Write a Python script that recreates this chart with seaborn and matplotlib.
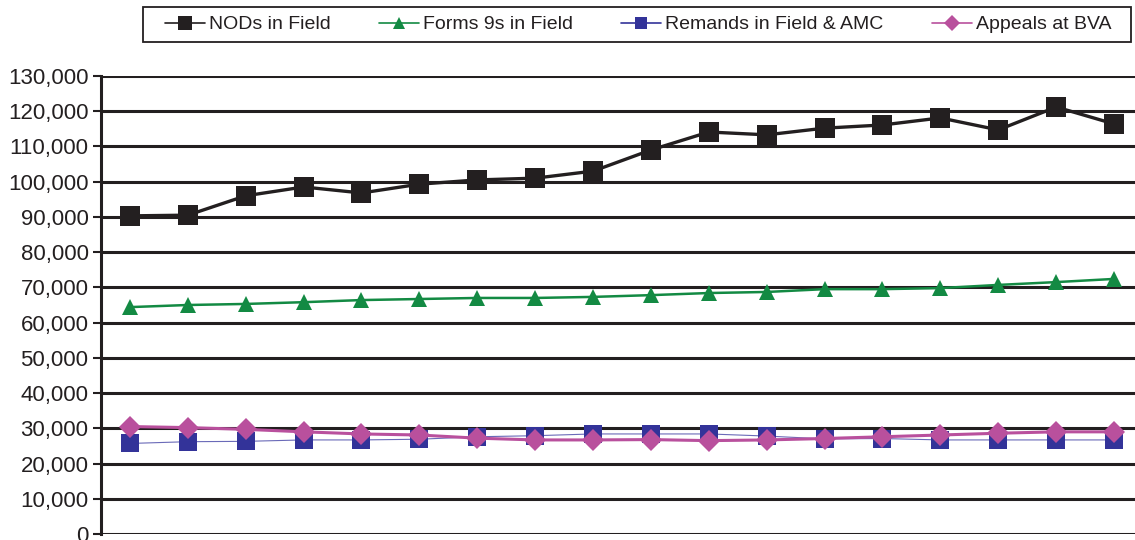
import pandas as pd
import matplotlib.pyplot as plt
import matplotlib.ticker as mticker
from matplotlib.patches import Rectangle
from matplotlib.lines import Line2D
import seaborn as sns

# ---------------- DATA ----------------
periods = list(range(18))
nods = [90300, 90500, 96000, 98500, 96800, 99300, 100500, 101000, 103000,
        109000, 114100, 113300, 115200, 116100, 118100, 114700, 121200, 116400]
forms9 = [64400, 65000, 65300, 65800, 66400, 66700, 67000, 67000, 67300,
          67800, 68400, 68700, 69500, 69500, 69800, 70700, 71500, 72400]
remands = [25700, 26200, 26300, 26700, 26700, 26900, 27600, 27900, 28400,
           28400, 28400, 27800, 27000, 27100, 26700, 26700, 26700, 26700]
appeals = [30500, 30200, 29700, 29000, 28400, 28100, 27200, 26700, 26700,
           26800, 26500, 26700, 27100, 27600, 28100, 28600, 29000, 29000]
series_names = ["NODs in Field", "Forms 9s in Field",
                "Remands in Field & AMC", "Appeals at BVA"]

# ---------------- STYLE ----------------
sns.set_style("white")
plt.rcParams["font.family"] = ["Liberation Sans", "DejaVu Sans"]

styles = {
    "NODs in Field": dict(color="#231f20", marker="s", markersize=14.5, linewidth=2.4),
    "Forms 9s in Field": dict(color="#138a43", marker="^", markersize=11.5, linewidth=1.8),
    "Remands in Field & AMC": dict(color="#6a6ab8", marker="s", markersize=12.5, linewidth=0.8,
                                   markerfacecolor="#333399"),
    "Appeals at BVA": dict(color="#b9509d", marker="D", markersize=11, linewidth=2.2),
}
legend_colors = {"NODs in Field": "#231f20", "Forms 9s in Field": "#138a43",
                 "Remands in Field & AMC": "#333399", "Appeals at BVA": "#b9509d"}

df = pd.DataFrame({"period": periods * 4,
                   "value": nods + forms9 + remands + appeals,
                   "series": sum([[n] * len(periods) for n in series_names], [])})

W, H = 1135, 540
fig = plt.figure(figsize=(W / 100, H / 100), dpi=100)
ax = fig.add_axes([101 / W, 6 / H, 1042 / W, 458 / H])

for name in series_names:
    sub = df[df["series"] == name]
    sns.lineplot(data=sub, x="period", y="value", ax=ax, legend=False,
                 markeredgewidth=0, clip_on=False, **styles[name])

ax.set_xlim(-0.5, 17.5)
ax.set_ylim(0, 130000)
ax.yaxis.set_major_locator(mticker.MultipleLocator(10000))
ax.yaxis.set_major_formatter(mticker.FuncFormatter(lambda v, p: f"{int(v):,}"))
ax.set_xticks([])
ax.set_xlabel("")
ax.set_ylabel("")
ax.grid(axis="y", color="#231f20", linewidth=2.2)
ax.set_axisbelow(True)
for s in ["top", "right", "bottom"]:
    ax.spines[s].set_visible(False)
ax.spines["left"].set_color("#231f20")
ax.spines["left"].set_linewidth(2.2)
ax.tick_params(axis="y", left=True, length=6, width=1.5, color="#231f20",
               labelsize=16, labelcolor="#231f20", pad=3)

# legend: thin lines, smaller markers, plain box drawn in figure pixels
handles = [Line2D([], [], color=legend_colors[n], linewidth=1.2,
                  marker=styles[n]["marker"],
                  markersize=styles[n]["markersize"] * 0.72, markeredgewidth=0)
           for n in series_names]
leg = fig.legend(handles, series_names, ncol=4, loc="center",
                 bbox_to_anchor=(638 / W, 1 - 24.5 / H),
                 frameon=False, fontsize=14, handlelength=2.05,
                 handletextpad=0.2, columnspacing=2.5, borderpad=0.3)
for t in leg.get_texts():
    t.set_color("#231f20")
fig.patches.append(Rectangle((143 / W, 1 - 42 / H), 988 / W, 35 / H,
                             transform=fig.transFigure, fill=False,
                             edgecolor="#231f20", linewidth=1.3))

fig.savefig("out.png", dpi=100)
